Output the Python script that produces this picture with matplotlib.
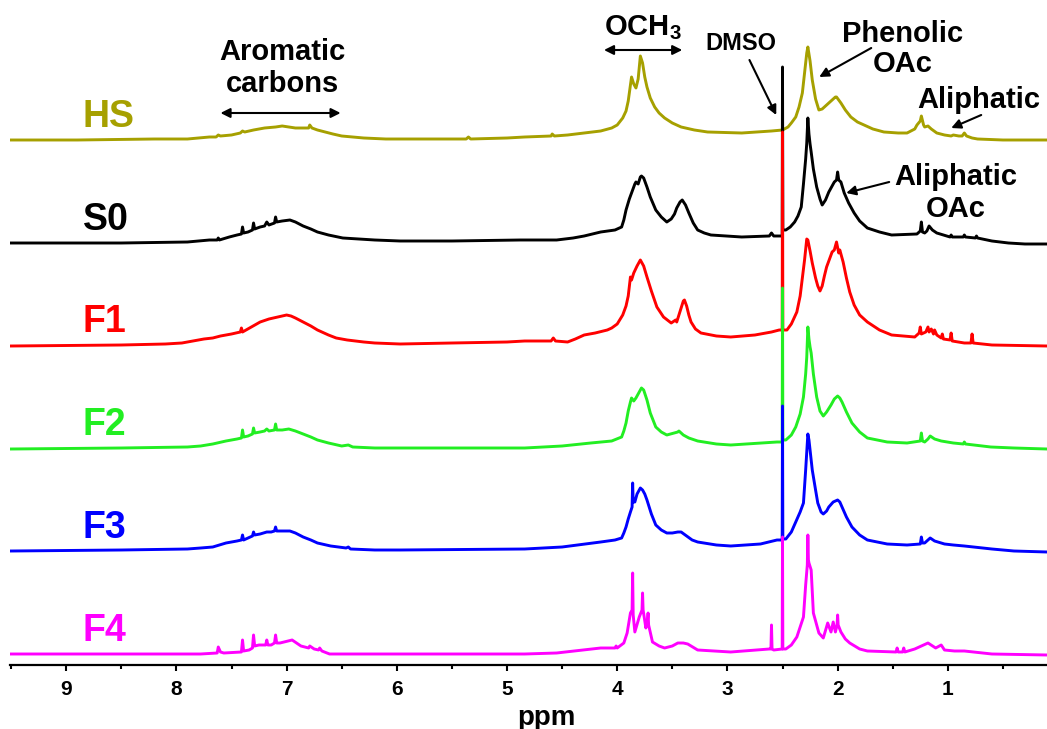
import numpy as np
import matplotlib
matplotlib.use("Agg")
import matplotlib.pyplot as plt
from matplotlib.ticker import MultipleLocator

plt.rcParams['font.family'] = ['Liberation Sans', 'DejaVu Sans']
plt.rcParams['font.weight'] = 'bold'
plt.rcParams['mathtext.fontset'] = 'custom'
plt.rcParams['mathtext.rm'] = 'Liberation Sans:bold'
plt.rcParams['mathtext.it'] = 'Liberation Sans:bold'
plt.rcParams['mathtext.bf'] = 'Liberation Sans:bold'

# spectra: (ppm, intensity above own baseline, arbitrary units)
hs_ppm = [9.50, 8.90, 8.20, 7.90, 7.80, 7.70, 7.64, 7.62, 7.60, 7.50, 7.42, 7.40, 7.38, 7.30,
          7.20, 7.10, 7.04, 6.98, 6.92, 6.85, 6.80, 6.79, 6.77, 6.72, 6.65, 6.58, 6.50, 6.40,
          6.30, 6.10, 5.97, 5.37, 5.35, 5.33, 5.00, 4.84, 4.60, 4.59, 4.57, 4.45, 4.30, 4.15,
          4.05, 4.00, 3.95, 3.92, 3.90, 3.88, 3.87, 3.85, 3.83, 3.81, 3.79, 3.77, 3.75, 3.73,
          3.70, 3.66, 3.62, 3.57, 3.50, 3.42, 3.30, 3.18, 2.87, 2.60, 2.50, 2.45, 2.42, 2.38,
          2.35, 2.32, 2.30, 2.28, 2.27, 2.25, 2.23, 2.20, 2.17, 2.14, 2.12, 2.08, 2.05, 2.02,
          2.01, 1.99, 1.97, 1.93, 1.88, 1.82, 1.76, 1.68, 1.58, 1.45, 1.37, 1.30, 1.28, 1.25,
          1.24, 1.22, 1.21, 1.18, 1.15, 1.10, 1.03, 0.97, 0.95, 0.90, 0.87, 0.85, 0.83, 0.78,
          0.73, 0.50, 0.10]
hs_int = [1, 1, 2, 2, 3, 4, 4, 6, 5, 6, 8, 10, 9, 11,
          13, 14, 15, 14, 13, 13, 13, 16, 13, 11, 9, 7, 5, 4,
          3, 2, 2, 2, 4, 2, 3, 4, 5, 7, 5, 6, 8, 10,
          13, 16, 23, 30, 40, 56, 64, 57, 53, 62, 85, 78, 64, 54,
          43, 34, 28, 23, 18, 14, 11, 9, 8, 10, 11, 14, 18, 24,
          34, 48, 68, 88, 94, 80, 61, 42, 31, 32, 34, 38, 41, 44,
          44, 41, 38, 31, 24, 19, 16, 12, 9, 8, 8, 12, 16, 20,
          25, 16, 14, 15, 12, 8, 6, 5, 6, 5, 5, 8, 5, 3,
          2, 1, 1]

s0_ppm = [9.50, 8.50, 7.90, 7.80, 7.70, 7.63, 7.62, 7.61, 7.52, 7.45, 7.41, 7.40, 7.39, 7.35,
          7.31, 7.30, 7.29, 7.24, 7.20, 7.18, 7.16, 7.11, 7.10, 7.09, 7.04, 6.97, 6.92, 6.85,
          6.78, 6.72, 6.62, 6.49, 6.35, 6.20, 5.97, 5.50, 4.88, 4.55, 4.40, 4.30, 4.15, 4.02,
          3.96, 3.94, 3.92, 3.89, 3.86, 3.84, 3.83, 3.81, 3.79, 3.78, 3.76, 3.73, 3.70, 3.65,
          3.60, 3.55, 3.51, 3.48, 3.46, 3.43, 3.41, 3.38, 3.35, 3.31, 3.27, 3.21, 3.15, 2.87,
          2.62, 2.60, 2.58, 2.503, 2.50, 2.497, 2.47, 2.43, 2.39, 2.36, 2.33, 2.31, 2.29, 2.28,
          2.27, 2.26, 2.25, 2.24, 2.22, 2.19, 2.16, 2.14, 2.11, 2.08, 2.05, 2.03, 2.01, 2.00,
          1.99, 1.97, 1.94, 1.90, 1.85, 1.80, 1.73, 1.62, 1.51, 1.28, 1.25, 1.24, 1.23, 1.21,
          1.19, 1.17, 1.14, 1.10, 1.04, 0.98, 0.97, 0.96, 0.86, 0.85, 0.84, 0.75, 0.74, 0.73,
          0.60, 0.45, 0.30, 0.10]
s0_int = [1, 1, 2, 3, 4, 4, 6, 4, 7, 9, 10, 17, 11, 12,
          14, 21, 15, 17, 18, 22, 19, 21, 27, 22, 23, 24, 22, 18,
          15, 12, 9, 6, 5, 4, 3, 3, 4, 4, 6, 8, 12, 14,
          17, 24, 34, 45, 54, 60, 62, 60, 67, 68, 66, 57, 47, 34,
          27, 22, 25, 30, 36, 42, 44, 39, 31, 21, 14, 11, 9, 7,
          8, 11, 8, 8, 177, 14, 14, 17, 22, 28, 37, 60, 85, 101,
          126, 110, 100, 92, 75, 57, 45, 39, 44, 52, 58, 62, 64, 72,
          64, 62, 51, 41, 31, 23, 16, 12, 9, 10, 13, 22, 12, 11,
          13, 18, 14, 11, 9, 7, 9, 7, 7, 9, 7, 6, 8, 6,
          3, 1, 0, 0]

f1_ppm = [9.50, 8.50, 8.10, 7.95, 7.85, 7.75, 7.67, 7.60, 7.50, 7.42, 7.41, 7.40, 7.32, 7.24,
          7.16, 7.08, 7.00, 6.96, 6.92, 6.85, 6.78, 6.72, 6.62, 6.55, 6.45, 6.30, 6.20, 5.97,
          5.50, 5.00, 4.84, 4.60, 4.58, 4.56, 4.45, 4.38, 4.30, 4.20, 4.09, 4.05, 4.00, 3.95,
          3.92, 3.90, 3.88, 3.87, 3.85, 3.82, 3.79, 3.76, 3.73, 3.69, 3.64, 3.58, 3.51, 3.47,
          3.46, 3.44, 3.42, 3.40, 3.39, 3.37, 3.35, 3.33, 3.29, 3.24, 3.10, 2.97, 2.75, 2.60,
          2.53, 2.503, 2.50, 2.497, 2.46, 2.42, 2.37, 2.34, 2.32, 2.30, 2.28, 2.27, 2.25, 2.23,
          2.20, 2.18, 2.16, 2.14, 2.12, 2.10, 2.07, 2.05, 2.03, 2.01, 1.99, 1.98, 1.95, 1.92,
          1.89, 1.85, 1.80, 1.73, 1.62, 1.51, 1.30, 1.26, 1.25, 1.24, 1.20, 1.18, 1.17, 1.15,
          1.13, 1.12, 1.10, 1.06, 1.05, 1.04, 0.98, 0.97, 0.96, 0.85, 0.79, 0.78, 0.77, 0.60,
          0.10]
f1_int = [0, 1, 2, 3, 5, 7, 8, 10, 12, 14, 18, 14, 19, 24,
          27, 29, 31, 30, 28, 24, 20, 16, 11, 8, 6, 4, 3, 2,
          3, 4, 5, 5, 8, 5, 4, 7, 11, 13, 16, 18, 22, 31,
          40, 50, 69, 66, 73, 80, 86, 80, 69, 55, 39, 29, 23, 26,
          24, 31, 38, 45, 46, 40, 31, 24, 17, 13, 10, 9, 11, 14,
          16, 16, 214, 16, 16, 22, 34, 50, 68, 86, 107, 106, 95, 83,
          68, 60, 55, 60, 70, 79, 88, 94, 96, 104, 93, 96, 84, 68,
          54, 41, 31, 24, 16, 11, 9, 13, 19, 12, 14, 19, 14, 17,
          12, 16, 11, 8, 12, 7, 6, 13, 5, 3, 3, 12, 3, 1,
          0]

f2_ppm = [9.50, 8.50, 7.90, 7.78, 7.67, 7.55, 7.45, 7.41, 7.40, 7.39, 7.35, 7.31, 7.30, 7.29,
          7.24, 7.20, 7.18, 7.16, 7.11, 7.10, 7.09, 7.04, 6.98, 6.92, 6.85, 6.78, 6.72, 6.62,
          6.50, 6.44, 6.40, 6.20, 5.97, 4.84, 4.50, 4.24, 4.05, 3.96, 3.94, 3.92, 3.90, 3.88,
          3.87, 3.85, 3.83, 3.80, 3.78, 3.76, 3.73, 3.70, 3.65, 3.60, 3.55, 3.45, 3.44, 3.40,
          3.35, 3.27, 3.10, 2.97, 2.55, 2.503, 2.50, 2.497, 2.47, 2.42, 2.38, 2.34, 2.31, 2.29,
          2.28, 2.27, 2.26, 2.25, 2.24, 2.22, 2.19, 2.16, 2.13, 2.10, 2.06, 2.03, 2.00, 1.98,
          1.96, 1.92, 1.87, 1.80, 1.73, 1.55, 1.37, 1.25, 1.24, 1.23, 1.21, 1.18, 1.16, 1.12,
          1.06, 0.95, 0.86, 0.85, 0.84, 0.61, 0.40, 0.10]
f2_int = [0, 1, 2, 3, 5, 8, 10, 11, 19, 12, 13, 15, 21, 16,
          17, 18, 20, 18, 19, 25, 19, 19, 20, 18, 15, 12, 9, 6,
          3, 4, 2, 1, 1, 1, 3, 6, 8, 12, 18, 26, 38, 47,
          51, 48, 51, 57, 61, 59, 49, 36, 22, 17, 14, 17, 18, 14,
          11, 8, 5, 4, 7, 7, 161, 9, 9, 14, 22, 35, 52, 75,
          92, 122, 110, 102, 96, 75, 52, 38, 33, 37, 44, 50, 53, 51,
          47, 37, 26, 17, 11, 7, 6, 8, 16, 8, 7, 10, 13, 10,
          8, 6, 5, 7, 5, 2, 1, 0]

f3_ppm = [9.50, 8.50, 7.90, 7.78, 7.67, 7.55, 7.45, 7.41, 7.40, 7.39, 7.35, 7.31, 7.30, 7.29,
          7.24, 7.18, 7.14, 7.11, 7.10, 7.09, 7.04, 6.97, 6.92, 6.85, 6.78, 6.72, 6.60, 6.46,
          6.44, 6.42, 6.20, 5.97, 4.84, 4.50, 4.15, 4.02, 3.96, 3.94, 3.92, 3.90, 3.88, 3.865,
          3.86, 3.855, 3.84, 3.82, 3.79, 3.77, 3.75, 3.73, 3.69, 3.65, 3.60, 3.55, 3.50, 3.45,
          3.42, 3.37, 3.32, 3.27, 3.10, 2.97, 2.70, 2.55, 2.503, 2.50, 2.497, 2.47, 2.42, 2.38,
          2.34, 2.31, 2.29, 2.28, 2.27, 2.26, 2.25, 2.23, 2.20, 2.18, 2.15, 2.13, 2.10, 2.08,
          2.04, 2.00, 1.98, 1.96, 1.92, 1.87, 1.80, 1.73, 1.55, 1.37, 1.25, 1.24, 1.23, 1.21,
          1.18, 1.16, 1.12, 1.03, 0.95, 0.85, 0.60, 0.40, 0.10]
f3_int = [1, 2, 3, 4, 5, 9, 11, 12, 17, 12, 14, 16, 20, 17,
          18, 20, 20, 21, 25, 21, 21, 21, 19, 15, 12, 9, 6, 4,
          5, 3, 2, 2, 3, 5, 10, 12, 14, 19, 25, 33, 40, 45,
          69, 50, 50, 58, 64, 62, 58, 52, 38, 27, 22, 19, 19, 20,
          20, 16, 12, 10, 7, 6, 8, 12, 12, 146, 13, 13, 20, 30,
          40, 49, 82, 100, 118, 112, 102, 82, 62, 49, 40, 38, 41, 45,
          50, 52, 50, 45, 35, 25, 17, 12, 8, 7, 8, 15, 9, 9,
          12, 14, 11, 8, 7, 6, 3, 1, 0]

f4_ppm = [9.50, 8.50, 7.78, 7.63, 7.62, 7.60, 7.57, 7.41, 7.40, 7.39, 7.34, 7.31, 7.30, 7.29,
          7.25, 7.19, 7.18, 7.17, 7.14, 7.11, 7.10, 7.09, 7.06, 6.95, 6.87, 6.80, 6.79, 6.75,
          6.71, 6.70, 6.68, 6.61, 6.00, 4.84, 4.55, 4.15, 4.02, 4.01, 4.00, 3.94, 3.91, 3.88,
          3.865, 3.86, 3.855, 3.84, 3.80, 3.775, 3.77, 3.765, 3.74, 3.725, 3.72, 3.715, 3.68, 3.62,
          3.57, 3.50, 3.45, 3.40, 3.36, 3.30, 3.27, 2.97, 2.62, 2.605, 2.60, 2.595, 2.58, 2.503,
          2.50, 2.497, 2.47, 2.42, 2.37, 2.31, 2.29, 2.275, 2.27, 2.265, 2.26, 2.24, 2.22, 2.17,
          2.13, 2.09, 2.06, 2.04, 2.02, 2.005, 2.00, 1.995, 1.97, 1.93, 1.89, 1.80, 1.73, 1.47,
          1.46, 1.45, 1.41, 1.40, 1.39, 1.30, 1.24, 1.18, 1.11, 1.06, 1.03, 0.94, 0.85, 0.60,
          0.10]
f4_int = [1, 1, 1, 2, 8, 3, 2, 3, 15, 4, 5, 7, 20, 9,
          10, 10, 15, 10, 10, 12, 20, 12, 12, 15, 9, 7, 9, 6,
          5, 7, 4, 1, 1, 1, 2, 7, 7, 9, 7, 12, 22, 42,
          45, 82, 40, 23, 38, 45, 62, 45, 27, 35, 42, 30, 13, 9,
          7, 9, 12, 12, 11, 7, 5, 3, 6, 6, 30, 6, 5, 6,
          118, 6, 6, 10, 18, 38, 70, 90, 120, 95, 92, 85, 42, 22,
          17, 32, 23, 33, 23, 30, 40, 30, 23, 16, 12, 6, 4, 3,
          7, 3, 3, 7, 3, 6, 9, 12, 7, 10, 5, 4, 4, 1,
          0]

names = ['HS', 'S0', 'F1', 'F2', 'F3', 'F4']
ppms = [hs_ppm, s0_ppm, f1_ppm, f2_ppm, f3_ppm, f4_ppm]
ints = [hs_int, s0_int, f1_int, f2_int, f3_int, f4_int]
colors = ['#A6A000', 'black', '#FF0000', '#22EE22', '#0000FF', '#FF00FF']
offsets = [524, 421, 319, 216, 113, 10]

fig = plt.figure(figsize=(10.47, 7.29), dpi=100)
ax = fig.add_axes([10 / 1047, 64 / 729, 1037 / 1047, 665 / 729])

for name, x, y, c, off in zip(names, ppms, ints, colors, offsets):
    ax.plot(x, np.array(y) + off, color=c, lw=2.1)
    ax.text(8.85, off + 24, name, color=c, fontsize=27, fontweight='bold',
            ha='left', va='center')

ax.set_xlim(9.51, 0.10)
ax.set_ylim(0, 665)
for s in ['left', 'right', 'top']:
    ax.spines[s].set_visible(False)
ax.spines['bottom'].set_linewidth(1.6)
ax.set_yticks([])
ax.xaxis.set_minor_locator(MultipleLocator(0.5))
ax.set_xticks(range(1, 10))
ax.tick_params(axis='x', which='major', length=4, width=1.5, labelsize=15, pad=7)
ax.tick_params(axis='x', which='minor', length=3, width=1.5)
for lab in ax.get_xticklabels():
    lab.set_fontweight('bold')
fig.text(546 / 1047, 1 - 718 / 729, 'ppm', fontsize=20, fontweight='bold',
         ha='center', va='center')

# annotations
txt = dict(fontsize=21, fontweight='bold', ha='center', va='center', color='black')
dbl = dict(arrowstyle='<|-|>', color='black', lw=1.5, mutation_scale=14, shrinkA=0, shrinkB=0)
one = dict(arrowstyle='-|>', color='black', lw=1.5, mutation_scale=14, shrinkA=0, shrinkB=0)

ax.text(7.04, 597, 'Aromatic\ncarbons', linespacing=1.15, **txt)
ax.annotate('', xy=(7.60, 552), xytext=(6.51, 552), arrowprops=dbl)
ax.text(3.77, 637, 'OCH$_3$', **txt)
ax.annotate('', xy=(4.12, 615), xytext=(3.41, 615), arrowprops=dbl)
ax.text(2.875, 622, 'DMSO', fontsize=17, fontweight='bold', ha='center', va='center')
ax.annotate('', xy=(2.557, 550), xytext=(2.80, 605), arrowprops=one)
ax.text(1.414, 616, 'Phenolic\nOAc', linespacing=1.1, **txt)
ax.annotate('', xy=(2.167, 588), xytext=(1.695, 617), arrowprops=one)
ax.text(0.715, 565, 'Aliphatic', **txt)
ax.annotate('', xy=(0.969, 537), xytext=(0.697, 550), arrowprops=one)
ax.text(0.93, 472, 'Aliphatic\nOAc', linespacing=1.15, **txt)
ax.annotate('', xy=(1.922, 472), xytext=(1.532, 483), arrowprops=one)

fig.savefig('out.png', dpi=100)
